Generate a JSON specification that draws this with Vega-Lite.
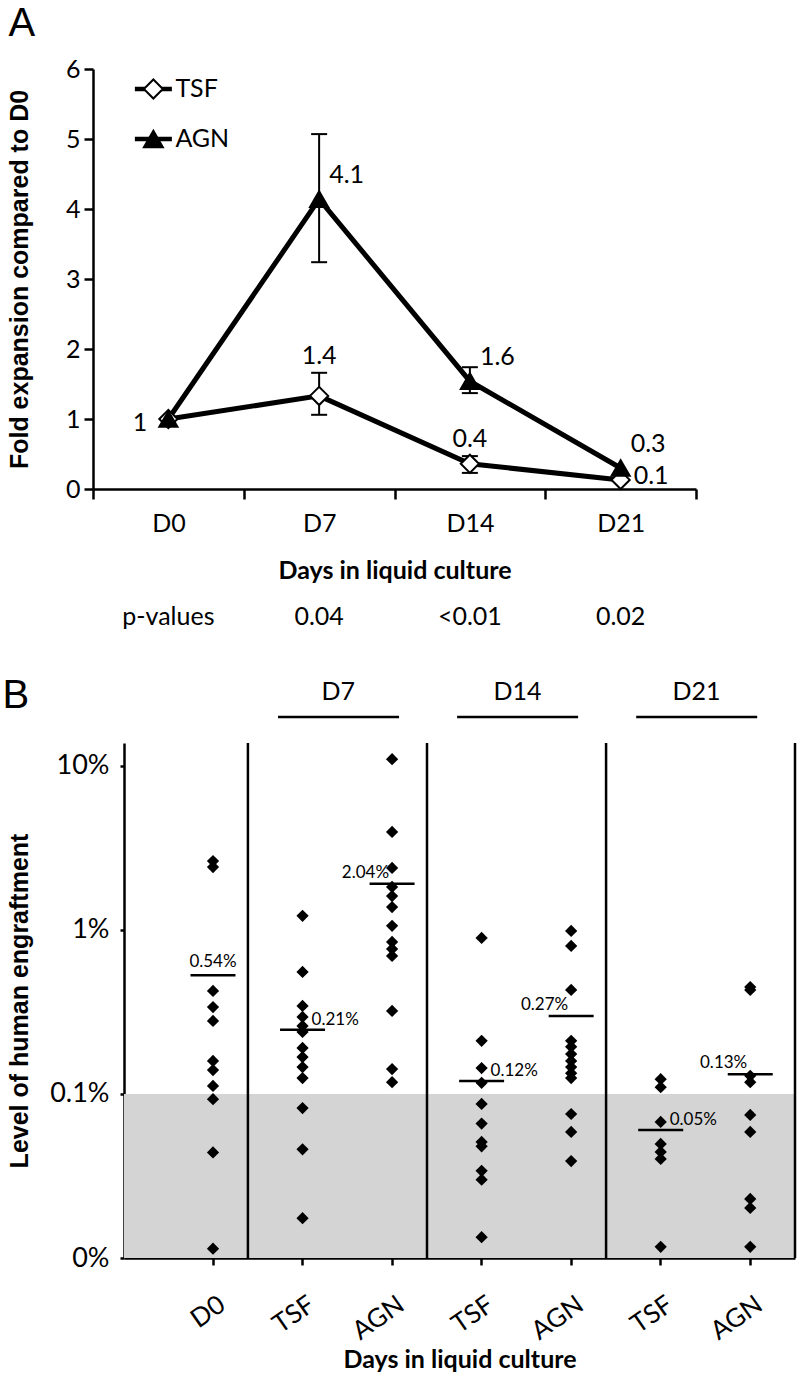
{
  "$schema": "https://vega.github.io/schema/vega-lite/v6.json",
  "padding": {"left": 2, "top": 0, "right": 0, "bottom": 0},
  "config": {
    "font": "Lato",
    "view": {"stroke": null},
    "axis": {"domainColor": "black", "tickColor": "black", "labelColor": "black", "titleColor": "black", "grid": false, "domainWidth": 2.5, "tickWidth": 2.5, "labelFont": "Lato", "titleFont": "Lato"},
    "text": {"color": "black"}
  },
  "datasets": {
    "expansion": [
      {"day": "D0", "series": "TSF", "mean": 1.0, "lo": null, "hi": null, "label": "1"},
      {"day": "D7", "series": "TSF", "mean": 1.33, "lo": 1.06, "hi": 1.66, "label": "1.4"},
      {"day": "D14", "series": "TSF", "mean": 0.36, "lo": 0.23, "hi": 0.47, "label": "0.4"},
      {"day": "D21", "series": "TSF", "mean": 0.13, "lo": null, "hi": null, "label": "0.1"},
      {"day": "D0", "series": "AGN", "mean": 1.0, "lo": null, "hi": null, "label": ""},
      {"day": "D7", "series": "AGN", "mean": 4.14, "lo": 3.24, "hi": 5.07, "label": "4.1"},
      {"day": "D14", "series": "AGN", "mean": 1.54, "lo": 1.37, "hi": 1.74, "label": "1.6"},
      {"day": "D21", "series": "AGN", "mean": 0.3, "lo": null, "hi": null, "label": "0.3"}
    ],
    "legendrows": [{"series": "TSF"}, {"series": "AGN"}],
    "pvals": [
      {"day": "D0", "text": "p-values"},
      {"day": "D7", "text": "0.04"},
      {"day": "D14", "text": "<0.01"},
      {"day": "D21", "text": "0.02"}
    ],
    "groups": [
      {"cond": "D7 TSF", "group": "D7"},
      {"cond": "D14 TSF", "group": "D14"},
      {"cond": "D21 TSF", "group": "D21"}
    ],
    "threshold": [{"lo": 0.01, "hi": 0.1}],
    "dividers": [{"cond": "D0"}, {"cond": "D7 AGN"}, {"cond": "D14 AGN"}, {"cond": "D21 AGN"}],
    "engraft": [
      {"cond": "D0", "v": 2.63}, {"cond": "D0", "v": 2.42}, {"cond": "D0", "v": 0.425}, {"cond": "D0", "v": 0.339},
      {"cond": "D0", "v": 0.279}, {"cond": "D0", "v": 0.159}, {"cond": "D0", "v": 0.14}, {"cond": "D0", "v": 0.112},
      {"cond": "D0", "v": 0.093}, {"cond": "D0", "v": 0.044}, {"cond": "D0", "v": 0.0114},
      {"cond": "D7 TSF", "v": 1.22}, {"cond": "D7 TSF", "v": 0.555}, {"cond": "D7 TSF", "v": 0.344}, {"cond": "D7 TSF", "v": 0.295},
      {"cond": "D7 TSF", "v": 0.26}, {"cond": "D7 TSF", "v": 0.239}, {"cond": "D7 TSF", "v": 0.191}, {"cond": "D7 TSF", "v": 0.168},
      {"cond": "D7 TSF", "v": 0.146}, {"cond": "D7 TSF", "v": 0.125}, {"cond": "D7 TSF", "v": 0.082}, {"cond": "D7 TSF", "v": 0.046},
      {"cond": "D7 TSF", "v": 0.0175},
      {"cond": "D7 AGN", "v": 11.0}, {"cond": "D7 AGN", "v": 3.96}, {"cond": "D7 AGN", "v": 2.39}, {"cond": "D7 AGN", "v": 1.83},
      {"cond": "D7 AGN", "v": 1.61}, {"cond": "D7 AGN", "v": 1.38}, {"cond": "D7 AGN", "v": 1.06}, {"cond": "D7 AGN", "v": 0.845},
      {"cond": "D7 AGN", "v": 0.766}, {"cond": "D7 AGN", "v": 0.694}, {"cond": "D7 AGN", "v": 0.321}, {"cond": "D7 AGN", "v": 0.142},
      {"cond": "D7 AGN", "v": 0.118},
      {"cond": "D14 TSF", "v": 0.894}, {"cond": "D14 TSF", "v": 0.211}, {"cond": "D14 TSF", "v": 0.144}, {"cond": "D14 TSF", "v": 0.117},
      {"cond": "D14 TSF", "v": 0.087}, {"cond": "D14 TSF", "v": 0.066}, {"cond": "D14 TSF", "v": 0.051}, {"cond": "D14 TSF", "v": 0.048},
      {"cond": "D14 TSF", "v": 0.034}, {"cond": "D14 TSF", "v": 0.03}, {"cond": "D14 TSF", "v": 0.0134},
      {"cond": "D14 AGN", "v": 0.986}, {"cond": "D14 AGN", "v": 0.799}, {"cond": "D14 AGN", "v": 0.431}, {"cond": "D14 AGN", "v": 0.211},
      {"cond": "D14 AGN", "v": 0.194}, {"cond": "D14 AGN", "v": 0.175}, {"cond": "D14 AGN", "v": 0.159}, {"cond": "D14 AGN", "v": 0.146},
      {"cond": "D14 AGN", "v": 0.134}, {"cond": "D14 AGN", "v": 0.125}, {"cond": "D14 AGN", "v": 0.0755}, {"cond": "D14 AGN", "v": 0.0587},
      {"cond": "D14 AGN", "v": 0.039},
      {"cond": "D21 TSF", "v": 0.123}, {"cond": "D21 TSF", "v": 0.11}, {"cond": "D21 TSF", "v": 0.0675}, {"cond": "D21 TSF", "v": 0.0496},
      {"cond": "D21 TSF", "v": 0.0443}, {"cond": "D21 TSF", "v": 0.0402}, {"cond": "D21 TSF", "v": 0.0117},
      {"cond": "D21 AGN", "v": 0.449}, {"cond": "D21 AGN", "v": 0.431}, {"cond": "D21 AGN", "v": 0.129}, {"cond": "D21 AGN", "v": 0.118},
      {"cond": "D21 AGN", "v": 0.0745}, {"cond": "D21 AGN", "v": 0.0587}, {"cond": "D21 AGN", "v": 0.0229}, {"cond": "D21 AGN", "v": 0.0202},
      {"cond": "D21 AGN", "v": 0.0117}
    ],
    "means": [
      {"cond": "D0", "mean": 0.53, "label": "0.54%"},
      {"cond": "D7 TSF", "mean": 0.246, "label": "0.21%"},
      {"cond": "D7 AGN", "mean": 1.91, "label": "2.04%"},
      {"cond": "D14 TSF", "mean": 0.12, "label": "0.12%"},
      {"cond": "D14 AGN", "mean": 0.299, "label": "0.27%"},
      {"cond": "D21 TSF", "mean": 0.0604, "label": "0.05%"},
      {"cond": "D21 AGN", "mean": 0.132, "label": "0.13%"}
    ]
  },
  "spacing": 0,
  "vconcat": [
    {
      "width": 603,
      "height": 57,
      "data": {"values": [{}]},
      "mark": {"type": "text", "text": ""},
      "encoding": {
        "y": {"datum": "a", "type": "nominal", "axis": {"title": "A", "titleAngle": 0, "titleAlign": "left", "titleBaseline": "alphabetic", "titleY": 35, "titleFontSize": 40, "titleFont": "Liberation Sans", "titleFontWeight": "normal", "labels": false, "ticks": false, "domain": false, "minExtent": 0, "maxExtent": 0, "titlePadding": 116}}
      }
    },
    {
      "width": 603,
      "height": 420,
      "encoding": {
        "x": {"field": "day", "type": "nominal", "sort": ["D0", "D7", "D14", "D21"], "title": "Days in liquid culture",
          "scale": {"type": "band", "paddingInner": 0, "paddingOuter": 0, "range": [-31, 572]},
          "axis": {"labelAngle": 0, "labelFontSize": 25, "tickBand": "extent", "tickSize": 10, "labelPadding": 12, "titleFontSize": 25, "titleFontWeight": "bold", "titlePadding": 22}}
      },
      "resolve": {"scale": {"y": "independent"}},
      "layer": [
        {
          "data": {"name": "expansion"},
          "layer": [
            {
              "mark": {"type": "line", "strokeWidth": 5, "color": "black"},
              "encoding": {
                "y": {"field": "mean", "type": "quantitative", "title": "Fold expansion compared to D0",
                  "scale": {"domain": [0, 6], "nice": false},
                  "axis": {"values": [0, 1, 2, 3, 4, 5, 6], "format": "d", "offset": 31, "labelFontSize": 25, "tickSize": 9, "labelPadding": 4, "minExtent": 27, "maxExtent": 27, "titlePadding": 34, "titleFontSize": 25, "titleFont": "Liberation Sans", "titleFontWeight": "bold"}},
                "detail": {"field": "series"}
              }
            },
            {
              "mark": {"type": "rule", "strokeWidth": 2, "color": "black"},
              "encoding": {
                "y": {"field": "lo", "type": "quantitative", "title": "Fold expansion compared to D0"},
                "y2": {"field": "hi"}
              }
            },
            {
              "mark": {"type": "tick", "orient": "horizontal", "size": 16, "thickness": 2, "color": "black", "opacity": 1},
              "encoding": {"y": {"field": "lo", "type": "quantitative", "title": "Fold expansion compared to D0"}}
            },
            {
              "mark": {"type": "tick", "orient": "horizontal", "size": 16, "thickness": 2, "color": "black", "opacity": 1},
              "encoding": {"y": {"field": "hi", "type": "quantitative", "title": "Fold expansion compared to D0"}}
            },
            {
              "mark": {"type": "point", "filled": true, "size": 330, "stroke": "black", "strokeWidth": 2, "opacity": 1},
              "encoding": {
                "y": {"field": "mean", "type": "quantitative", "title": "Fold expansion compared to D0"},
                "shape": {"field": "series", "type": "nominal", "scale": {"domain": ["TSF", "AGN"], "range": ["diamond", "triangle-up"]}, "legend": null},
                "fill": {"field": "series", "type": "nominal", "scale": {"domain": ["TSF", "AGN"], "range": ["white", "black"]}, "legend": null}
              }
            },
            {
              "transform": [{"filter": "datum.day === 'D0' && datum.series === 'TSF'"}],
              "mark": {"type": "text", "fontSize": 25, "align": "right", "baseline": "middle", "dx": -21, "dy": 4},
              "encoding": {"y": {"field": "mean", "type": "quantitative", "title": "Fold expansion compared to D0"}, "text": {"field": "label"}}
            },
            {
              "transform": [{"filter": "datum.series === 'TSF' && (datum.day === 'D7' || datum.day === 'D14')"}],
              "mark": {"type": "text", "fontSize": 25, "align": "center", "baseline": "bottom", "dy": -4},
              "encoding": {"y": {"field": "hi", "type": "quantitative", "title": "Fold expansion compared to D0"}, "text": {"field": "label"}}
            },
            {
              "transform": [{"filter": "datum.series === 'AGN' && datum.day !== 'D0'"}],
              "mark": {"type": "text", "fontSize": 25, "align": "left", "baseline": "middle", "dx": 10, "dy": -24},
              "encoding": {"y": {"field": "mean", "type": "quantitative", "title": "Fold expansion compared to D0"}, "text": {"field": "label"}}
            },
            {
              "transform": [{"filter": "datum.series === 'TSF' && datum.day === 'D21'"}],
              "mark": {"type": "text", "fontSize": 25, "align": "left", "baseline": "middle", "dx": 13, "dy": -4},
              "encoding": {"y": {"field": "mean", "type": "quantitative", "title": "Fold expansion compared to D0"}, "text": {"field": "label"}}
            }
          ]
        },
        {
          "data": {"name": "legendrows"},
          "encoding": {
            "x": {"datum": "D0", "type": "nominal", "title": "Days in liquid culture"},
            "y": {"field": "series", "type": "nominal", "scale": {"type": "point", "domain": ["TSF", "AGN"], "range": [20, 70], "padding": 0}, "axis": null}
          },
          "layer": [
            {"mark": {"type": "tick", "orient": "horizontal", "size": 37, "thickness": 4.5, "xOffset": -15, "color": "black", "opacity": 1}},
            {
              "mark": {"type": "point", "filled": true, "size": 360, "stroke": "black", "strokeWidth": 2, "opacity": 1, "xOffset": -15},
              "encoding": {
                "shape": {"field": "series", "type": "nominal", "legend": null},
                "fill": {"field": "series", "type": "nominal", "legend": null}
              }
            },
            {
              "mark": {"type": "text", "fontSize": 25, "align": "left", "baseline": "middle", "dx": 7},
              "encoding": {"text": {"field": "series"}}
            }
          ]
        }
      ]
    },
    {
      "width": 603,
      "height": 68,
      "data": {"name": "pvals"},
      "mark": {"type": "text", "fontSize": 25},
      "encoding": {
        "x": {"field": "day", "type": "nominal", "sort": ["D0", "D7", "D14", "D21"], "scale": {"type": "band", "paddingInner": 0, "paddingOuter": 0, "range": [-31, 572]}, "axis": null},
        "y": {"datum": "p", "type": "nominal", "axis": null},
        "text": {"field": "text"}
      }
    },
    {
      "width": 671,
      "height": 90,
      "data": {"name": "groups"},
      "encoding": {
        "x": {"field": "cond", "type": "nominal", "bandPosition": 0.9,
          "scale": {"type": "band", "domain": ["D0", "D7 TSF", "D7 AGN", "D14 TSF", "D14 AGN", "D21 TSF", "D21 AGN"], "paddingInner": 0, "paddingOuter": 0.247, "align": 1},
          "axis": null}
      },
      "layer": [
        {
          "mark": {"type": "text", "fontSize": 25, "dy": -4},
          "encoding": {
            "y": {"datum": "h", "type": "nominal", "axis": {"title": "B", "titleAngle": 0, "titleAlign": "left", "titleBaseline": "alphabetic", "titleY": 56, "titleFontSize": 40, "titleFont": "Liberation Sans", "titleFontWeight": "normal", "labels": false, "ticks": false, "domain": false, "minExtent": 0, "maxExtent": 0, "titlePadding": 122}},
            "text": {"field": "group"}
          }
        },
        {
          "mark": {"type": "tick", "orient": "horizontal", "size": 121, "thickness": 2.5, "yOffset": 21, "xOffset": 36, "color": "black", "opacity": 1},
          "encoding": {"x": {"field": "cond", "type": "nominal"}}
        }
      ]
    },
    {
      "width": 671,
      "height": 515,
      "layer": [
        {
          "data": {"name": "threshold"},
          "mark": {"type": "rect", "color": "#d4d4d4"},
          "encoding": {
            "y": {"field": "lo", "type": "quantitative", "title": "Level of human engraftment",
              "scale": {"type": "log", "domain": [0.01, 13.8], "nice": false},
              "axis": {"values": [0.01, 0.1, 1, 10], "labelExpr": "datum.value < 0.05 ? '0%' : datum.value + '%'", "labelFontSize": 27, "labelPadding": 11, "tickSize": 4, "minExtent": 73, "maxExtent": 73, "titlePadding": 19, "titleFontSize": 25, "titleFont": "Liberation Sans", "titleFontWeight": "bold"}},
            "y2": {"field": "hi"}
          }
        },
        {
          "data": {"name": "dividers"},
          "transform": [{"filter": "datum.cond !== 'D21 AGN'"}],
          "mark": {"type": "rule", "strokeWidth": 2.5, "color": "black"},
          "encoding": {"x": {"field": "cond", "type": "nominal", "bandPosition": 0.89, "title": "Days in liquid culture"}}
        },
        {
          "data": {"name": "dividers"},
          "transform": [{"filter": "datum.cond === 'D21 AGN'"}],
          "mark": {"type": "rule", "strokeWidth": 2.5, "color": "black"},
          "encoding": {"x": {"field": "cond", "type": "nominal", "bandPosition": 1, "title": "Days in liquid culture"}}
        },
        {
          "data": {"name": "engraft"},
          "mark": {"type": "point", "shape": "diamond", "filled": true, "color": "black", "size": 150, "opacity": 1},
          "encoding": {
            "x": {"field": "cond", "type": "nominal", "title": "Days in liquid culture",
              "scale": {"type": "band", "domain": ["D0", "D7 TSF", "D7 AGN", "D14 TSF", "D14 AGN", "D21 TSF", "D21 AGN"], "paddingInner": 0, "paddingOuter": 0.247, "align": 1},
              "axis": {"labelExpr": "peek(split(datum.value, ' '))", "labelAngle": -35, "labelAlign": "right", "labelBaseline": "top", "labelOffset": 2, "labelFontSize": 26, "labelPadding": 26, "tickSize": 7, "titleFontSize": 25, "titleFontWeight": "bold", "titlePadding": 3}},
            "y": {"field": "v", "type": "quantitative", "title": "Level of human engraftment"}
          }
        },
        {
          "data": {"name": "means"},
          "mark": {"type": "tick", "orient": "horizontal", "size": 45, "thickness": 2.5, "color": "black", "opacity": 1},
          "encoding": {
            "x": {"field": "cond", "type": "nominal", "title": "Days in liquid culture"},
            "y": {"field": "mean", "type": "quantitative", "title": "Level of human engraftment"}
          }
        },
        {
          "data": {"name": "means"},
          "transform": [{"filter": "datum.cond === 'D0'"}],
          "mark": {"type": "text", "fontSize": 17, "align": "center", "baseline": "bottom", "dy": -4},
          "encoding": {
            "x": {"field": "cond", "type": "nominal", "title": "Days in liquid culture"},
            "y": {"field": "mean", "type": "quantitative", "title": "Level of human engraftment"},
            "text": {"field": "label"}
          }
        },
        {
          "data": {"name": "means"},
          "transform": [{"filter": "datum.cond === 'D7 AGN' || datum.cond === 'D14 AGN' || datum.cond === 'D21 AGN'"}],
          "mark": {"type": "text", "fontSize": 17, "align": "right", "baseline": "middle", "dx": -3, "dy": -11},
          "encoding": {
            "x": {"field": "cond", "type": "nominal", "title": "Days in liquid culture"},
            "y": {"field": "mean", "type": "quantitative", "title": "Level of human engraftment"},
            "text": {"field": "label"}
          }
        },
        {
          "data": {"name": "means"},
          "transform": [{"filter": "datum.cond === 'D7 TSF' || datum.cond === 'D14 TSF' || datum.cond === 'D21 TSF'"}],
          "mark": {"type": "text", "fontSize": 17, "align": "left", "baseline": "middle", "dx": 9, "dy": -10},
          "encoding": {
            "x": {"field": "cond", "type": "nominal", "title": "Days in liquid culture"},
            "y": {"field": "mean", "type": "quantitative", "title": "Level of human engraftment"},
            "text": {"field": "label"}
          }
        }
      ]
    }
  ]
}
